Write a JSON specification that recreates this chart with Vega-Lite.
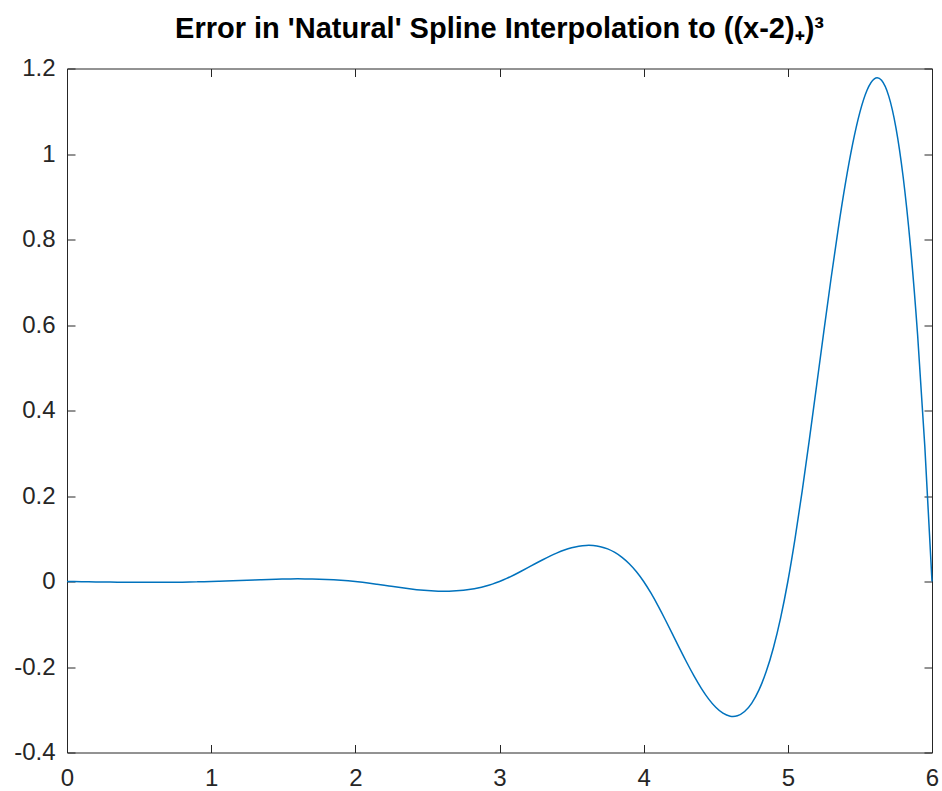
{
  "$schema": "https://vega.github.io/schema/vega-lite/v6.json",
  "autosize": "none",
  "width": 865,
  "height": 684,
  "padding": {"left": 67, "top": 68.5, "right": 10, "bottom": 38},
  "background": "#ffffff",
  "config": {
    "view": {"stroke": "#262626", "strokeWidth": 1},
    "font": "Liberation Sans",
    "axis": {"grid": false, "domain": false, "title": null, "minExtent": 0, "tickColor": "#262626", "tickSize": -8, "tickWidth": 1, "labelColor": "#262626", "labelFont": "Liberation Sans", "labelFontSize": 24, "labelFlush": false, "labelOverlap": false, "labelBound": false}
  },
  "title": {"text": "Error in 'Natural' Spline Interpolation to ((x-2)₊)³", "font": "Liberation Sans", "fontSize": 29, "fontWeight": "bold", "color": "#000000", "baseline": "alphabetic", "offset": -10, "anchor": "middle", "frame": "group"},
  "data": {"values": [
    {"x":0,"y":0},{"x":0.05,"y":-0.000256},{"x":0.1,"y":-0.000508},{"x":0.15,"y":-0.000752},{"x":0.2,"y":-0.000985},{"x":0.25,"y":-0.001202},{"x":0.3,"y":-0.0014},{"x":0.35,"y":-0.001575},{"x":0.4,"y":-0.001723},{"x":0.45,"y":-0.00184},{"x":0.5,"y":-0.001923},{"x":0.55,"y":-0.001967},{"x":0.6,"y":-0.001969},{"x":0.65,"y":-0.001925},{"x":0.7,"y":-0.001831},{"x":0.75,"y":-0.001683},{"x":0.8,"y":-0.001477},{"x":0.85,"y":-0.00121},{"x":0.9,"y":-0.000877},{"x":0.95,"y":-0.000475},
    {"x":1,"y":0},{"x":1.05,"y":0.000548},{"x":1.1,"y":0.001154},{"x":1.15,"y":0.001798},{"x":1.2,"y":0.002461},{"x":1.25,"y":0.003125},{"x":1.3,"y":0.003769},{"x":1.35,"y":0.004375},{"x":1.4,"y":0.004923},{"x":1.45,"y":0.005395},{"x":1.5,"y":0.005769},{"x":1.55,"y":0.006029},{"x":1.6,"y":0.006154},{"x":1.65,"y":0.006125},{"x":1.7,"y":0.005923},{"x":1.75,"y":0.005529},{"x":1.8,"y":0.004923},{"x":1.85,"y":0.004086},{"x":1.9,"y":0.003},{"x":1.95,"y":0.001644},
    {"x":2,"y":0},{"x":2.05,"y":-0.001937},{"x":2.1,"y":-0.004107},{"x":2.15,"y":-0.006441},{"x":2.2,"y":-0.008861},{"x":2.25,"y":-0.011298},{"x":2.3,"y":-0.013677},{"x":2.35,"y":-0.015925},{"x":2.4,"y":-0.017969},{"x":2.45,"y":-0.019737},{"x":2.5,"y":-0.021154},{"x":2.55,"y":-0.022148},{"x":2.6,"y":-0.022646},{"x":2.65,"y":-0.022575},{"x":2.7,"y":-0.021862},{"x":2.75,"y":-0.020432},{"x":2.8,"y":-0.018216},{"x":2.85,"y":-0.015136},{"x":2.9,"y":-0.011123},{"x":2.95,"y":-0.006102},
    {"x":3,"y":0},{"x":3.05,"y":0.007198},{"x":3.1,"y":0.015277},{"x":3.15,"y":0.023964},{"x":3.2,"y":0.032984},{"x":3.25,"y":0.042068},{"x":3.3,"y":0.050938},{"x":3.35,"y":0.059325},{"x":3.4,"y":0.066954},{"x":3.45,"y":0.073552},{"x":3.5,"y":0.078846},{"x":3.55,"y":0.082563},{"x":3.6,"y":0.084431},{"x":3.65,"y":0.084175},{"x":3.7,"y":0.081523},{"x":3.75,"y":0.076202},{"x":3.8,"y":0.067939},{"x":3.85,"y":0.056459},{"x":3.9,"y":0.041493},{"x":3.95,"y":0.022763},
    {"x":4,"y":0},{"x":4.05,"y":-0.026856},{"x":4.1,"y":-0.057},{"x":4.15,"y":-0.089414},{"x":4.2,"y":-0.123077},{"x":4.25,"y":-0.156971},{"x":4.3,"y":-0.190077},{"x":4.35,"y":-0.221375},{"x":4.4,"y":-0.249846},{"x":4.45,"y":-0.274472},{"x":4.5,"y":-0.294231},{"x":4.55,"y":-0.308105},{"x":4.6,"y":-0.315077},{"x":4.65,"y":-0.314125},{"x":4.7,"y":-0.304231},{"x":4.75,"y":-0.284375},{"x":4.8,"y":-0.253539},{"x":4.85,"y":-0.210702},{"x":4.9,"y":-0.154846},{"x":4.95,"y":-0.084952},
    {"x":5,"y":0},{"x":5.05,"y":0.100225},{"x":5.1,"y":0.212723},{"x":5.15,"y":0.33369},{"x":5.2,"y":0.459323},{"x":5.25,"y":0.585817},{"x":5.3,"y":0.709369},{"x":5.35,"y":0.826175},{"x":5.4,"y":0.932431},{"x":5.45,"y":1.024333},{"x":5.5,"y":1.098077},{"x":5.55,"y":1.149859},{"x":5.6,"y":1.175877},{"x":5.65,"y":1.172325},{"x":5.7,"y":1.1354},{"x":5.75,"y":1.061298},{"x":5.8,"y":0.946215},{"x":5.85,"y":0.786348},{"x":5.9,"y":0.577892},{"x":5.95,"y":0.317044},
    {"x":6,"y":0}
  ]},
  "resolve": {"axis": {"x": "independent", "y": "independent"}},
  "layer": [
    {
      "mark": {"type": "line", "interpolate": "natural", "color": "#0072BD", "strokeWidth": 1.5},
      "encoding": {
        "x": {"field": "x", "type": "quantitative", "scale": {"domain": [0, 6], "nice": false, "zero": false},
              "axis": {"orient": "bottom", "values": [0,1,2,3,4,5,6], "labelPadding": 21.5, "format": "d"}},
        "y": {"field": "y", "type": "quantitative", "scale": {"domain": [-0.4, 1.2], "nice": false, "zero": false},
              "axis": {"orient": "left", "values": [-0.4,-0.2,0,0.2,0.4,0.6,0.8,1,1.2], "labelPadding": 20,
                       "labelExpr": "replace(format(datum.value, '.1~f'), '\u2212', '-')"}}
      }
    },
    {
      "mark": {"type": "line", "strokeOpacity": 0},
      "encoding": {
        "x": {"field": "x", "type": "quantitative", "scale": {"domain": [0, 6], "nice": false, "zero": false},
              "axis": {"orient": "top", "values": [0,1,2,3,4,5,6], "labels": false}},
        "y": {"field": "y", "type": "quantitative", "scale": {"domain": [-0.4, 1.2], "nice": false, "zero": false},
              "axis": {"orient": "right", "values": [-0.4,-0.2,0,0.2,0.4,0.6,0.8,1,1.2], "labels": false}}
      }
    }
  ]
}
